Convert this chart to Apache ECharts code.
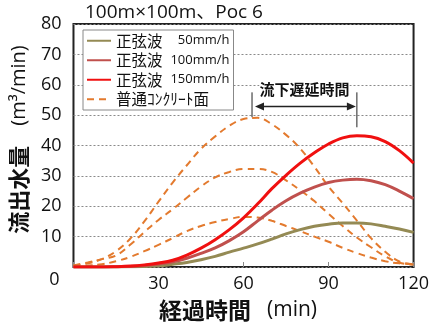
<!DOCTYPE html>
<html>
<head>
<meta charset="utf-8">
<script src="https://cdn.jsdelivr.net/npm/echarts@6/dist/echarts.min.js"></script>
<style>html,body{margin:0;padding:0;background:#fff}#c{width:432px;height:327px}</style>
</head>
<body>
<div id="c"></div>
<script>
// ---- data ----
const times = [0,5,10,15,20,25,30,35,40,45,50,55,60,65,70,75,80,85,90,95,100,105,110,115,120];
const sine50  = [0,0,0,0,0.05,0.2,0.4,0.9,1.5,2.4,3.5,4.9,6.2,7.6,9.2,10.9,12.3,13.4,14.1,14.5,14.5,14.2,13.4,12.5,11.4];
const sine100 = [0,0,0,0.1,0.2,0.5,1,1.7,2.9,4.5,6.3,8.7,11.6,15.2,18.7,21.8,24.3,26.3,27.8,28.6,28.9,28.4,27.1,25,22.5];
const sine150 = [0,0,0,0.1,0.3,0.7,1.3,2.2,3.9,6.2,9,12.3,16.2,20.8,25.8,30.2,34.2,37.6,40.5,42.5,43.2,42.9,41.3,38.3,34.2];
const concBig   = [0.5,1.2,2.6,5.2,9.3,15,21.5,27.8,33.5,38.9,43,46.5,48.7,49.1,47,43.5,39,33,26.5,21,15.3,9.5,5,1.8,0.8];
const concMid   = [0.5,1.5,2.6,3.8,7.3,11.5,15.5,19,22.8,26.5,29.5,31.3,32.3,32.3,31.3,28.5,25.3,21.7,17.5,13.5,9.7,6.5,3.5,1.4,0.8];
const concSmall = [0.3,0.5,0.9,1.9,3.3,5.2,7.3,9.5,11.8,13.5,14.8,15.8,16.5,16.3,15.2,13.5,11.8,10,8.3,6.3,4.6,3.1,1.9,1.2,1];
const seriesNames = ['正弦波 50mm/h','正弦波 100mm/h','正弦波 150mm/h','普通ｺﾝｸﾘｰﾄ面'];
const xTicks = [30,60,90,120];
const titleText = '100m×100m、Poc 6';
const yNameJP = '流出水量', yNameUnit = '(m³/min)';
const xNameJP = '経過時間', xNameUnit = '(min)';
const delayLabel = '流下遅延時間';
const delayStart = 63, delayEnd = 100;   // minutes (peak times)

const pairs = arr => times.map((t,i)=>[t,arr[i]]);
const FONT = "'Open Sans','Noto Sans CJK JP',sans-serif";
const JP = "'Noto Sans CJK JP',sans-serif";
const DASH = '#E37A2E';

function solid(name, data, color){
  return {name, type:'line', data:pairs(data), smooth:0.4, symbol:'none',
    lineStyle:{color, width:3}, itemStyle:{color}, z:3};
}
function dashed(data){
  return {name:seriesNames[3], type:'line', data:pairs(data), smooth:0.4, symbol:'none',
    lineStyle:{color:DASH, width:2, type:[7,5]}, itemStyle:{color:DASH}, z:2};
}

const chart = echarts.init(document.getElementById('c'), null, {renderer:'canvas'});
chart.setOption({
  animation:false,
  backgroundColor:'#fff',
  title:{text:titleText, left:85, top:3, padding:0, textStyle:{fontFamily:FONT, fontSize:19, fontWeight:'normal', color:'#111'}},
  grid:{left:72, right:11, top:24, bottom:58, show:true, borderColor:'#222', borderWidth:2, backgroundColor:'transparent'},
  legend:{
    data:seriesNames, orient:'vertical', left:83, top:30,
    backgroundColor:'#fff', borderColor:'#888', borderWidth:1, padding:[3,4,3,3],
    itemWidth:24, itemHeight:14, itemGap:4,
    itemStyle:{opacity:0},
    formatter: n => {
      const sp = n.indexOf(' ');
      if (sp < 0) return '{a|'+n+'}';
      return '{a|'+n.slice(0,sp)+'}{b|'+n.slice(sp+1)+'}';
    },
    textStyle:{rich:{
      a:{fontFamily:JP, fontSize:15.5, color:'#111', lineHeight:15},
      b:{fontFamily:FONT, fontSize:13, color:'#111', width:67, align:'right', lineHeight:15}
    }}
  },
  xAxis:{type:'value', min:0, max:120, interval:30,
    axisLine:{show:false}, splitLine:{show:false},
    axisTick:{show:true, inside:true, length:5, lineStyle:{color:'#888'}},
    axisLabel:{fontFamily:FONT, fontSize:18, color:'#111', margin:8,
      formatter: v => xTicks.indexOf(v) >= 0 ? String(v) : ''},
    name:'{a|'+xNameJP+'}{s| }{b|'+xNameUnit+'}', nameLocation:'middle', nameGap:32,
    nameTextStyle:{padding:[0,11,0,0], rich:{
      a:{fontFamily:JP, fontSize:23, fontWeight:'bold', color:'#111'},
      s:{width:16},
      b:{fontFamily:FONT, fontSize:21, color:'#111'}
    }}
  },
  yAxis:{type:'value', min:0, max:80, interval:10,
    axisLine:{show:false}, axisTick:{show:false},
    splitLine:{show:true, lineStyle:{color:'#8a8a8a', width:1, type:[2,2]}},
    axisLabel:{fontFamily:FONT, fontSize:18, color:'#111', margin:12, formatter: v => v === 0 ? '' : String(v)},
    name:'{a|'+yNameJP+'}{s| }{b|'+yNameUnit+'}', nameLocation:'middle', nameRotate:90, nameGap:42,
    nameTextStyle:{padding:[0,0,0,12], rich:{
      a:{fontFamily:JP, fontSize:22, fontWeight:'bold', color:'#111'},
      s:{width:20},
      b:{fontFamily:FONT, fontSize:20, color:'#111'}
    }}
  },
  series:[
    solid(seriesNames[0], sine50, '#948A54'),
    solid(seriesNames[1], sine100, '#C0504D'),
    solid(seriesNames[2], sine150, '#F01010'),
    dashed(concBig), dashed(concMid), dashed(concSmall)
  ]
});

// annotation built from data coordinates
const P = (t,v) => chart.convertToPixel({gridIndex:0}, [t,v]);
const l0 = P(delayStart, 57.5), l1 = P(delayStart, 49.3);
const r0 = P(delayEnd, 57.5), r1 = P(delayEnd, 46);
const ay = P(delayStart, 52.8)[1];
const ax0 = l0[0] + 3, ax1 = r0[0] - 1;
const origin = P(0,0);
chart.setOption({graphic:[
  {type:'line', shape:{x1:l0[0],y1:l0[1],x2:l1[0],y2:l1[1]}, style:{stroke:'#222', lineWidth:1}},
  {type:'line', shape:{x1:r0[0],y1:r0[1],x2:r1[0],y2:r1[1]}, style:{stroke:'#222', lineWidth:1}},
  {type:'line', shape:{x1:ax0+6,y1:ay,x2:ax1-6,y2:ay}, style:{stroke:'#222', lineWidth:1.5}},
  {type:'polygon', shape:{points:[[ax0,ay],[ax0+9,ay-4],[ax0+9,ay+4]]}, style:{fill:'#222'}},
  {type:'polygon', shape:{points:[[ax1,ay],[ax1-9,ay-4],[ax1-9,ay+4]]}, style:{fill:'#222'}},
  {type:'text', x:(l0[0]+r0[0])/2, y:ay-17, style:{text:delayLabel, fontFamily:JP, fontSize:15, fontWeight:'bold', fill:'#111', align:'center', verticalAlign:'middle', backgroundColor:'#fff'}},
  {type:'text', x:origin[0]-14, y:origin[1]+13, style:{text:'0', fontFamily:FONT, fontSize:18, fill:'#111', align:'right', verticalAlign:'middle'}}
]});
</script>
</body>
</html>
